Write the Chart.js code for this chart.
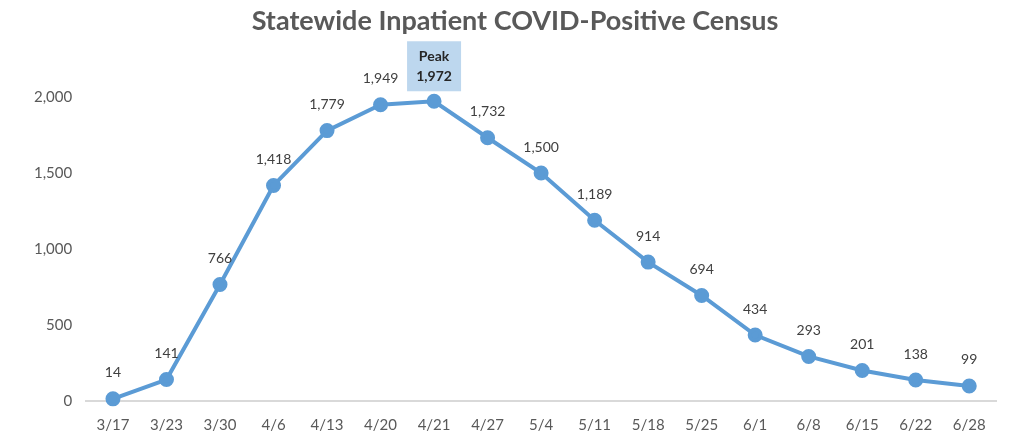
<!DOCTYPE html>
<html>
<head>
<meta charset="utf-8">
<script src="https://cdn.jsdelivr.net/npm/chart.js@4/dist/chart.umd.min.js"></script>
<style>
html,body{margin:0;padding:0;background:#fff;}
#wrap{width:1015px;height:436px;position:relative;}
</style>
</head>
<body>
<div id="wrap"><canvas id="c" width="1015" height="436"></canvas></div>
<script>
const title = "Statewide Inpatient COVID-Positive Census";
const categories = ["3/17","3/23","3/30","4/6","4/13","4/20","4/21","4/27","5/4","5/11","5/18","5/25","6/1","6/8","6/15","6/22","6/28"];
const census = [14,141,766,1418,1779,1949,1972,1732,1500,1189,914,694,434,293,201,138,99];
const yTicks = [0,500,1000,1500,2000];
const peakText = "Peak";

const FONT = "Lato, 'Open Sans', sans-serif";
const fmt = v => v.toLocaleString('en-US');

const labelsPlugin = {
  id: 'labels',
  afterDatasetsDraw(chart) {
    const ctx = chart.ctx;
    const meta = chart.getDatasetMeta(0);
    const peakIdx = census.indexOf(Math.max(...census));
    ctx.save();
    ctx.textAlign = 'center';
    ctx.textBaseline = 'middle';
    meta.data.forEach((pt, i) => {
      if (i === peakIdx) {
        const bx = pt.x - 27, by = pt.y - 60, bw = 54, bh = 50;
        ctx.fillStyle = '#BDD7EE';
        ctx.fillRect(bx, by, bw, bh);
        ctx.fillStyle = '#262626';
        ctx.font = "bold 14px " + FONT;
        ctx.fillText(peakText, pt.x, by + 15);
        ctx.fillText(fmt(census[i]), pt.x, by + 35);
      } else {
        ctx.fillStyle = '#404040';
        ctx.font = "14px " + FONT;
        ctx.fillText(fmt(census[i]), pt.x, pt.y - 26);
      }
    });
    ctx.restore();
  },
  afterDraw(chart) {
    const ctx = chart.ctx;
    ctx.save();
    ctx.fillStyle = '#595959';
    ctx.font = "bold 27px " + FONT;
    ctx.textAlign = 'center';
    ctx.textBaseline = 'middle';
    ctx.fillText(title, 515, 21);
    ctx.restore();
  }
};

new Chart(document.getElementById('c'), {
  type: 'line',
  data: {
    labels: categories,
    datasets: [{
      data: census,
      borderColor: '#5B9BD5',
      backgroundColor: '#5B9BD5',
      borderWidth: 4,
      pointRadius: 5.5,
      pointHoverRadius: 5.5,
      pointBackgroundColor: '#5B9BD5',
      pointBorderColor: '#5B9BD5',
      tension: 0,
      clip: false
    }]
  },
  options: {
    responsive: false,
    animation: false,
    devicePixelRatio: 1,
    layout: { padding: { top: 97, left: 20, right: 19, bottom: 0 } },
    plugins: { legend: { display: false }, tooltip: { enabled: false } },
    scales: {
      x: {
        offset: true,
        afterFit(axis) { axis.height = 35; },
        grid: { display: false, drawTicks: false },
        border: { display: true, color: '#D9D9D9', width: 2 },
        ticks: { color: '#595959', font: { family: FONT, size: 15 }, padding: 15, maxRotation: 0, autoSkip: false }
      },
      y: {
        min: 0, max: 2000,
        afterBuildTicks(axis) { axis.ticks = yTicks.map(v => ({ value: v })); },
        grid: { display: false, drawTicks: false },
        border: { display: false },
        ticks: { color: '#595959', font: { family: FONT, size: 15 }, padding: 14, callback: v => fmt(v) }
      }
    }
  },
  plugins: [labelsPlugin]
});
</script>
</body>
</html>
